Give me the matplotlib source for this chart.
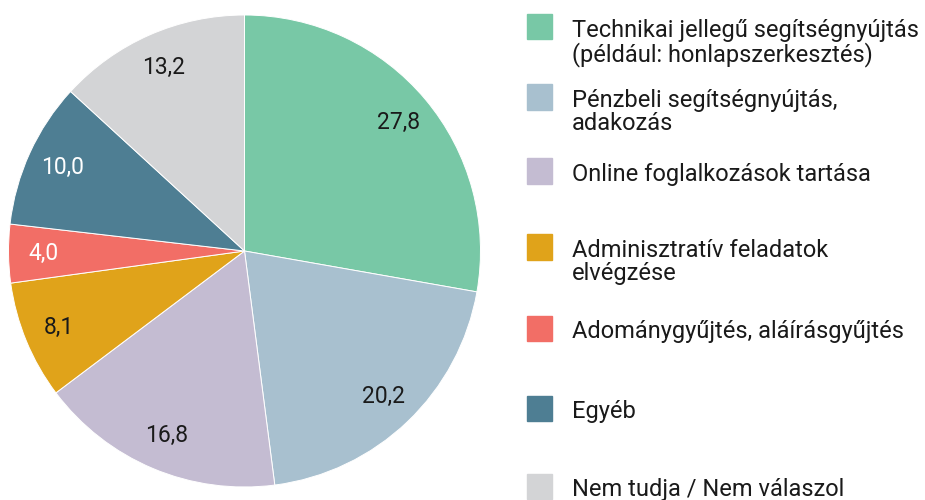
import matplotlib
matplotlib.use('Agg')
import matplotlib.pyplot as plt
from matplotlib.patches import Rectangle

plt.rcParams['font.family'] = ['Roboto', 'DejaVu Sans']

categories = [
    'Technikai jellegű segítségnyújtás\n(például: honlapszerkesztés)',
    'Pénzbeli segítségnyújtás,\nadakozás',
    'Online foglalkozások tartása',
    'Adminisztratív feladatok\nelvégzése',
    'Adománygyűjtés, aláírásgyűjtés',
    'Egyéb',
    'Nem tudja / Nem válaszol',
]
values = [27.8, 20.2, 16.8, 8.1, 4.0, 10.0, 13.2]
colors = ['#78C8A6', '#A8C0CF', '#C4BCD2', '#E0A31A', '#F26E66', '#4E7E93', '#D3D4D6']
label_colors = ['#1a1a1a', '#1a1a1a', '#1a1a1a', '#1a1a1a', 'white', 'white', '#1a1a1a']

W, H = 925, 500
fig = plt.figure(figsize=(9.25, 5), dpi=100)

# pie axes: centre ~ (244.5, 251) px, radius ~236 px
ax = fig.add_axes([8.5 / W, (H - 487) / H, 472 / W, 472 / H])
labels = [('%.1f' % v).replace('.', ',') for v in values]
wedges, texts = ax.pie(values, labels=labels, colors=colors, startangle=90,
                       counterclock=False, labeldistance=0.85, radius=1,
                       wedgeprops=dict(edgecolor='white', linewidth=0.7),
                       textprops=dict(fontsize=16.5))
for t, c in zip(texts, label_colors):
    t.set_ha('center')
    t.set_va('center')
    t.set_color(c)
ax.set_xlim(-1, 1)
ax.set_ylim(-1, 1)
ax.set_aspect('equal')
ax.axis('off')

# legend drawn by hand (square centres in px from top)
centres = [26.5, 97, 171, 247, 328, 408, 486]
for cat, col, yc in zip(categories, colors, centres):
    fig.patches.append(Rectangle((527 / W, (H - yc - 12.5) / H), 25 / W, 25 / H,
                                 transform=fig.transFigure, color=col))
    fig.text(572 / W, (H - yc + 8) / H, cat, fontsize=17, color='#1a1a1a',
             ha='left', va='top', linespacing=1.02)

fig.savefig('out.png', dpi=100)
